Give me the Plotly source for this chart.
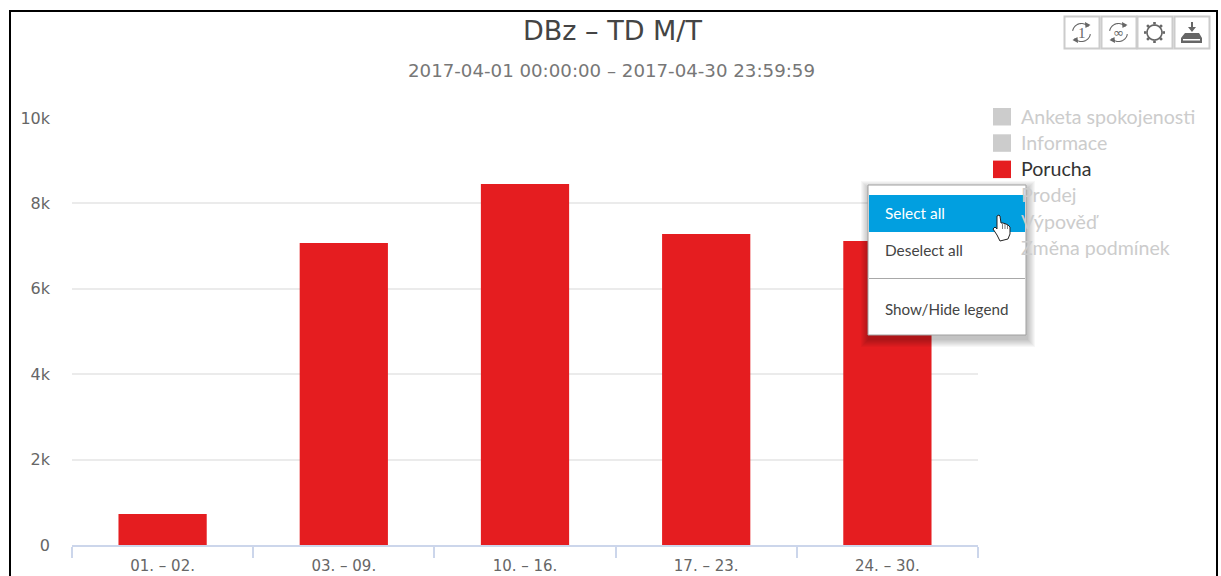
import plotly.graph_objects as go
import math

W, H = 1221, 576
L, R, T, B = 72, 978, 118, 545

categories = ["01. – 02.", "03. – 09.", "10. – 16.", "17. – 23.", "24. – 30."]
porucha_values = [726, 7073, 8454, 7283, 7119]
y_ticks = [0, 2000, 4000, 6000, 8000, 10000]
y_tick_labels = ["0", "2k", "4k", "6k", "8k", "10k"]
legend_names = ["Anketa spokojenosti", "Informace", "Porucha", "Prodej", "Výpověď", "Změna podmínek"]
legend_active = "Porucha"
menu_items = ["Select all", "Deselect all", "Show/Hide legend"]
title = "DBz – TD M/T"
subtitle = "2017-04-01 00:00:00 – 2017-04-30 23:59:59"

RED = "#e51d20"
FONT = "Lato"
TFONT = "DejaVu Sans"


def fx(px):
    return (px - L) / (R - L)


def fy(py):
    return (B - py) / (B - T)


shapes, annots = [], []


def rect(x0, y0, x1, y1, fill="rgba(0,0,0,0)", line=None, lw=0, layer="above"):
    shapes.append(dict(type="rect", xref="paper", yref="paper", x0=fx(x0), x1=fx(x1), y0=fy(y0), y1=fy(y1),
                       fillcolor=fill, line=dict(color=line or "rgba(0,0,0,0)", width=lw), layer=layer))


def poly(pts, fill="rgba(0,0,0,0)", line=None, lw=0, close=True):
    d = "M" + "L".join(f"{fx(x):.5f},{fy(y):.5f}" for x, y in pts) + ("Z" if close else "")
    shapes.append(dict(type="path", xref="paper", yref="paper", path=d, fillcolor=fill,
                       line=dict(color=line or "rgba(0,0,0,0)", width=lw), layer="above"))


def text(x, y, s, size, color, anchor="left", family=FONT):
    annots.append(dict(xref="paper", yref="paper", x=fx(x), y=fy(y), text=s, showarrow=False, xanchor=anchor,
                       yanchor="middle", borderpad=0, borderwidth=0,
                       font=dict(family=family, size=size, color=color)))


# outer frame
rect(9, 10, 11, 576, fill="#000")
rect(9, 10, 1218, 12, fill="#000")
rect(1216, 10, 1218, 576, fill="#000")

# titles
text(612, 30.5, title, 27, "#444", "center", TFONT)
text(611.5, 70, subtitle, 18.2, "#777", "center", TFONT)

# legend
for i, name in enumerate(legend_names):
    y = 116.5 + i * 26.3
    on = name == legend_active
    rect(993, y - 8.5, 1011, y + 9, fill=RED if on else "#cccccc")
    text(1021, y - 0.5, name, 19.6, "#333" if on else "#cccccc")

# context menu with shadow
for k in range(8, 0, -1):
    rect(868 - k + 1, 185 - k + 4, 1026 + k + 1, 335 + k + 4, fill="rgba(0,0,0,0.03)")
rect(868, 185, 1026, 335, fill="#fff", line="#a0a0a0", lw=1)
rect(869, 195, 1025, 232, fill="#019fe0")
rect(869, 278, 1025, 279, fill="#a8a8a8")
text(885, 213, menu_items[0], 15.4, "#ffffff")
text(885, 250, menu_items[1], 15.4, "#444444")
text(885, 309, menu_items[2], 15.2, "#444444")

# hand cursor
hand = [(997, 216), (999, 215), (1000, 216), (1001, 223), (1003, 223), (1006, 224), (1008, 225), (1010, 227),
        (1010, 234), (1008, 239), (1000, 241), (997, 235), (993, 229), (995, 227), (997, 229)]
poly(hand, fill="#ffffff", line="#222", lw=1)
for xa in (1002.5, 1005, 1007.5):
    poly([(xa, 224), (xa, 229)], line="#444", lw=0.7, close=False)

# toolbar buttons
for x0, x1 in [(1064, 1100), (1101, 1137), (1137, 1173), (1174, 1210)]:
    rect(x0 + .5, 16.5, x1 - .5, 48.5, fill="#fff", line="#cccccc", lw=2)
ICON = "#666666"


def arc(cx, cy, r, a0, a1):
    n = 20
    return [(cx + r * math.cos(math.radians(a0 + (a1 - a0) * i / n)),
             cy + r * math.sin(math.radians(a0 + (a1 - a0) * i / n))) for i in range(n + 1)]


for cx, lab in [(1081.5, "1"), (1118.5, "∞")]:
    poly(arc(cx, 32.5, 9, 190, 320), line=ICON, lw=1.1, close=False)
    poly(arc(cx, 32.5, 9, 10, 140), line=ICON, lw=1.1, close=False)
    poly([(cx + 3.5, 22), (cx + 9, 25), (cx + 4, 28)], fill=ICON)
    poly([(cx - 3.5, 43), (cx - 9, 40), (cx - 4, 37)], fill=ICON)
    text(cx, 32.5, lab, 15 if lab == "1" else 13, ICON, "center", "Liberation Serif" if lab == "1" else TFONT)

# gear
gx, gy = 1154.5, 32.5
poly(arc(gx, gy, 7.5, 0, 360), line=ICON, lw=1.6)
for a in range(0, 360, 45):
    c, s = math.cos(math.radians(a)), math.sin(math.radians(a))
    poly([(gx + 8 * c, gy + 8 * s), (gx + 10.5 * c, gy + 10.5 * s)], line=ICON, lw=2.6, close=False)

# download / stamp
poly([(1191, 22), (1193, 22), (1193, 27), (1196, 27), (1192, 32), (1188, 27), (1191, 27)], fill=ICON)
poly([(1185, 33), (1199, 33), (1202, 38), (1202, 43), (1181, 43), (1181, 38)], fill=ICON)
rect(1183, 39, 1200, 40.5, fill="#ffffff")

fig = go.Figure(go.Bar(x=categories, y=porucha_values, marker=dict(color=RED, line=dict(width=0)),
                       width=0.487, showlegend=False))
fig.update_layout(
    width=W, height=H, autosize=False, paper_bgcolor="#fff", plot_bgcolor="#fff",
    margin=dict(l=L, r=W - R, t=T, b=H - B, pad=0, autoexpand=False),
    shapes=shapes, annotations=annots, showlegend=False,
    xaxis=dict(type="category", tickson="boundaries", ticks="outside", ticklen=11, tickwidth=1.5, tickcolor="#ccd6eb",
               showline=True, linecolor="#ccd6eb", linewidth=2, showgrid=False, zeroline=False, automargin=False,
               tickfont=dict(family=TFONT, size=15, color="#666"), ticklabelstandoff=6),
    yaxis=dict(range=[0, 10000], tickvals=y_ticks, ticktext=y_tick_labels, showgrid=True, gridcolor="#ebebeb",
               gridwidth=1.5, zeroline=False, showline=False, ticks="", ticklabelstandoff=21, automargin=False,
               tickfont=dict(family=TFONT, size=16, color="#666")),
)
fig.write_html("out.html", config=dict(displayModeBar=False),
               post_script="document.body.style.margin='0';document.body.style.overflow='hidden';")
